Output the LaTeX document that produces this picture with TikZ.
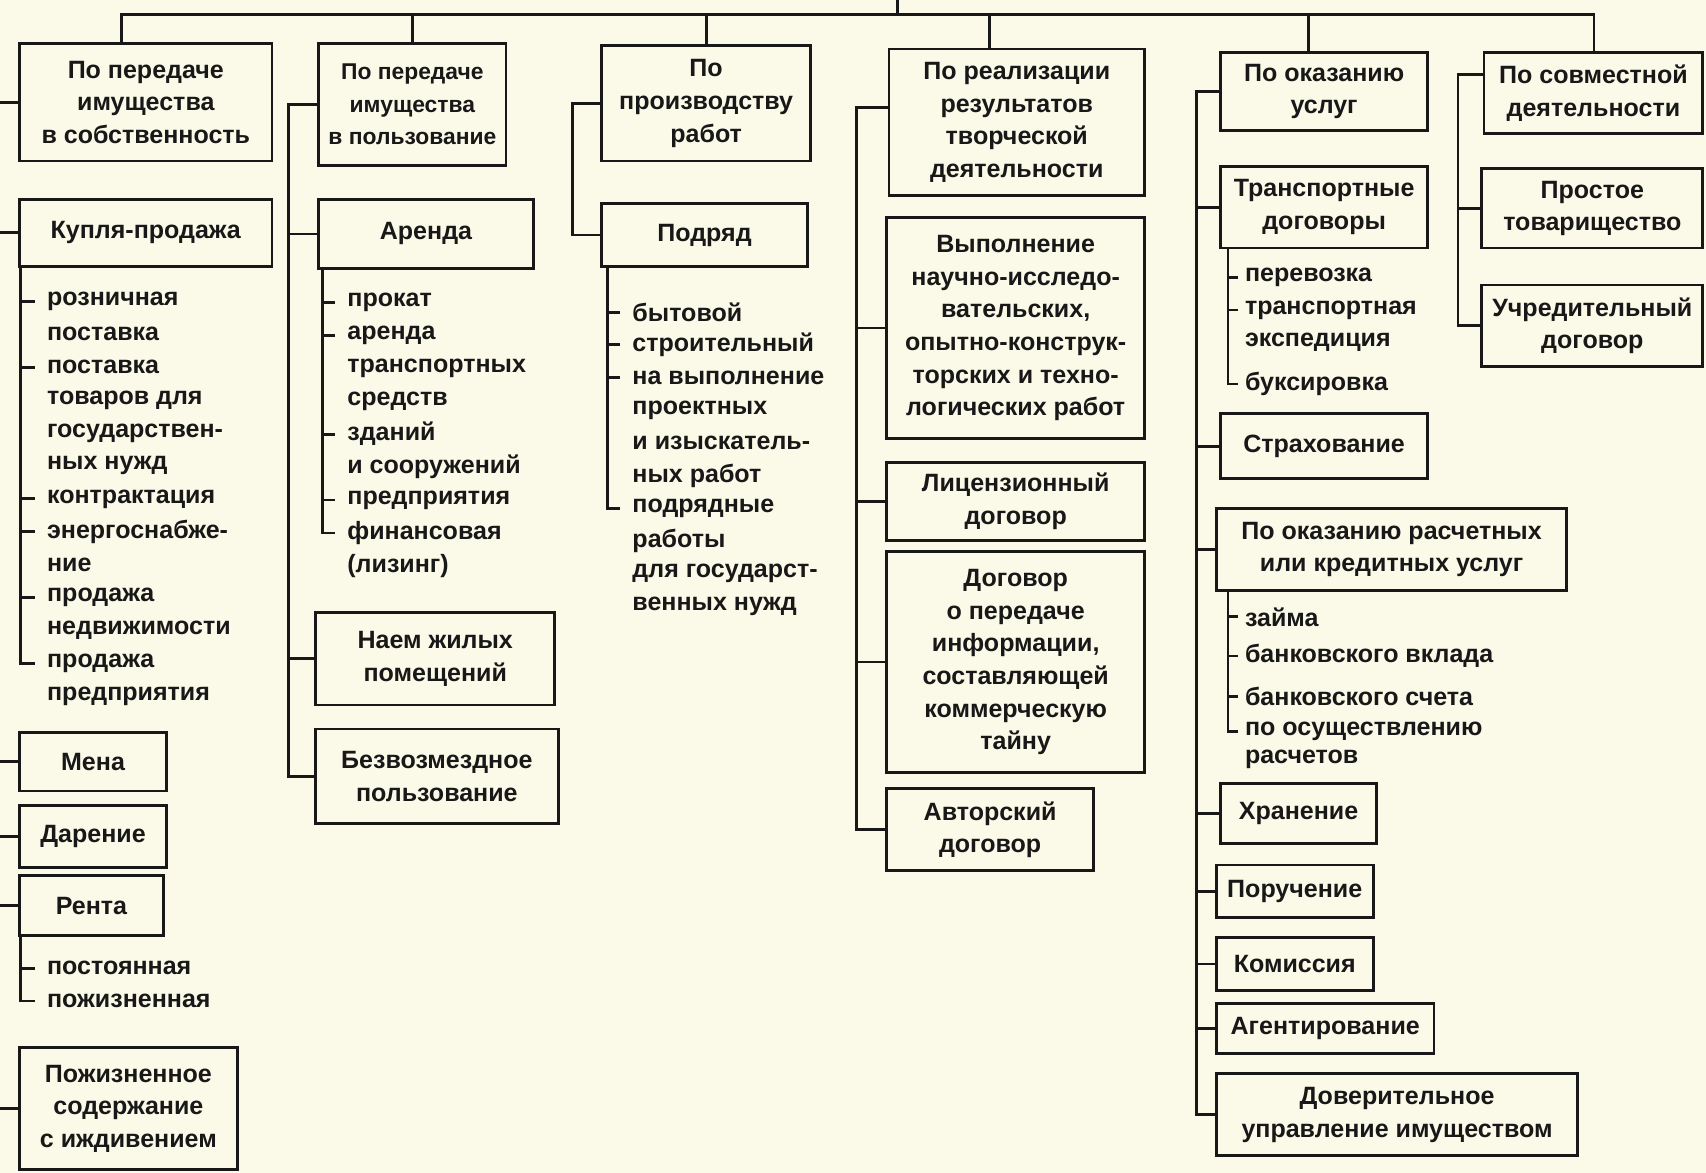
\documentclass[tikz,border=0pt]{standalone}
\usepackage{fontspec}
\setmainfont{Liberation Sans}
\usetikzlibrary{positioning,calc}
\definecolor{paper}{RGB}{251,249,231}
\definecolor{ink}{RGB}{24,24,24}
\tikzset{
    box/.style={draw=ink, line width=2.6pt, align=center, inner sep=0pt,
        text=ink, font=\fontsize{23}{30}\selectfont\bfseries},
    item/.style={anchor=west, inner sep=0pt, text=ink,
        font=\fontsize{23}{30}\selectfont\bfseries},
}

\begin{document}
\begin{tikzpicture}[x=1pt, y=-1pt, color=ink, line width=2.6pt]
        \useasboundingbox (0,0) rectangle (1568,1078);
        \fill[paper] (0,0) rectangle (1568,1078);

        % Top level groups
        \node[box, minimum width=232, minimum height=108] (P1) at (134,94) {По передаче\\имущества\\в собственность};
        \node[box, minimum width=172, minimum height=112, font=\fontsize{21}{30}\selectfont\bfseries] (P2) at (379,96) {По передаче\\имущества\\в пользование};
        \node[box, minimum width=192, minimum height=106] (P3) at (649,95) {По\\производству\\работ};
        \node[box, minimum width=235, minimum height=135] (P4) at (934.5,112.5) {По реализации\\результатов\\творческой\\деятельности};
        \node[box, minimum width=190, minimum height=72] (P5) at (1217,84) {По оказанию\\услуг};
        \node[box, minimum width=201, minimum height=75] (P6) at (1464.5,85.5) {По совместной\\деятельности};

        % Top bar and the drops into the groups
        \coordinate (T) at (825,0);
        \coordinate (L) at (112,13);
        \coordinate (R) at (1465,13);
        \draw (L |- P1.north) -- (L) -- (R) -- (R |- P6.north);
        \draw (T) -- (T |- L);
        \draw (P2.north) -- (P2.north |- L);
        \draw (P3.north) -- (P3.north |- L);
        \draw ([xshift=-25pt]P4.north) -- ([xshift=-25pt]P4.north |- L);
        \draw ([xshift=-14pt]P5.north) -- ([xshift=-14pt]P5.north |- L);

        % Column 1: transfer into ownership
        \coordinate (E) at (0,0);
        \node[box, minimum width=232, minimum height=62] (KP) at (134,214) {Купля-продажа};
        \node[box, minimum width=135, minimum height=54] (MEN) at (85.5,700) {Мена};
        \node[box, minimum width=135, minimum height=57] (DAR) at (85.5,768.5) {Дарение};
        \node[box, minimum width=132, minimum height=55] (RENT) at (84,832.5) {Рента};
        \node[box, minimum width=200, minimum height=112] (POZH) at (118,1019) {Пожизненное\\содержание\\с иждивением};
        \foreach \n in {P1,KP,MEN,DAR,RENT,POZH}
            \draw (\n.west) -- (\n.west -| E);

        \foreach \t [count=\i] in {розничная, поставка, поставка, товаров для,
            государствен-, ных нужд, контрактация, энергоснабже-, ние, продажа,
            недвижимости, продажа, предприятия}
            \node[item] (KP\i) at (42,246.75+30.25*\i) {\t};
        \draw ([xshift=2pt]KP.south west) |- ([xshift=-10pt]KP12.west);
        \foreach \i in {1,3,7,8,10}
            \draw ([xshift=-10pt]KP\i.west) -- ([xshift=-22pt]KP\i.west);

        \node[item] (R1) at (42,890) {постоянная};
        \node[item] (R2) at (42,920) {пожизненная};
        \draw ([xshift=2pt]RENT.south west) |- ([xshift=-10pt]R2.west);
        \draw ([xshift=-10pt]R1.west) -- ([xshift=-22pt]R1.west);

        % Column 2: transfer into use
        \coordinate (bus2) at (265,0);
        \node[box, minimum width=197, minimum height=64] (AR) at (391.5,215) {Аренда};
        \node[box, minimum width=220, minimum height=85] (NAEM) at (400,605.5) {Наем жилых\\помещений};
        \node[box, minimum width=223, minimum height=87] (BZ) at (401.5,713.5) {Безвозмездное\\пользование};
        \draw (P2.west) -| (bus2 |- BZ.west) -- (BZ.west);
        \foreach \n in {AR,NAEM}
            \draw (\n.west) -- (\n.west -| bus2);

        \foreach \t [count=\i] in {прокат, аренда, транспортных, средств, зданий,
            и сооружений, предприятия, финансовая, (лизинг)}
            \node[item] (AR\i) at (318,247.5+30.3*\i) {\t};
        \draw ([xshift=5pt]AR.south west) |- ([xshift=-10pt]AR8.west);
        \foreach \i in {1,2,5,7}
            \draw ([xshift=-10pt]AR\i.west) -- ([xshift=-20pt]AR\i.west);

        % Column 3: works
        \coordinate (bus3) at (526,0);
        \node[box, minimum width=189, minimum height=58] (POD) at (647.5,216) {Подряд};
        \draw (P3.west) -| (bus3 |- POD.west) -- (POD.west);

        \foreach \t [count=\i] in {бытовой, строительный, на выполнение, проектных,
            и изыскатель-, ных работ, подрядные, работы, для государст-, венных нужд}
            \node[item] (POD\i) at (580,257+30*\i) {\t};
        \draw ([xshift=7pt]POD.south west) |- ([xshift=-10pt]POD7.west);
        \foreach \i in {1,2,3}
            \draw ([xshift=-10pt]POD\i.west) -- ([xshift=-20pt]POD\i.west);

        % Column 4: results of creative activity
        \coordinate (bus4) at (787,0);
        \node[box, minimum width=237, minimum height=203] (NIR) at (933.5,301.5) {Выполнение\\научно-исследо-\\вательских,\\опытно-конструк-\\торских и техно-\\логических работ};
        \node[box, minimum width=237, minimum height=72] (LIC) at (933.5,461) {Лицензионный\\договор};
        \node[box, minimum width=237, minimum height=203] (INF) at (933.5,608.5) {Договор\\о передаче\\информации,\\составляющей\\коммерческую\\тайну};
        \node[box, minimum width=190, minimum height=75] (AVT) at (910,762.5) {Авторский\\договор};
        \draw ($(P4.north west)!0.4!(P4.south west)$) -| (bus4 |- AVT.west) -- (AVT.west);
        \foreach \n in {NIR,LIC,INF}
            \draw (\n.west) -- (\n.west -| bus4);

        % Column 5: services
        \coordinate (bus5) at (1100,0);
        \node[box, minimum width=190, minimum height=75] (TR) at (1217,190.5) {Транспортные\\договоры};
        \node[box, minimum width=190, minimum height=60] (STR) at (1217,410) {Страхование};
        \node[box, minimum width=322, minimum height=76] (RAS) at (1279,505) {По оказанию расчетных\\или кредитных услуг};
        \node[box, minimum width=143, minimum height=55] (XR) at (1193.5,747.5) {Хранение};
        \node[box, minimum width=144, minimum height=48] (POR) at (1190,819) {Поручение};
        \node[box, minimum width=144, minimum height=48] (KOM) at (1190,886) {Комиссия};
        \node[box, minimum width=200, minimum height=46] (AG) at (1218,945) {Агентирование};
        \node[box, minimum width=332, minimum height=75] (DOV) at (1284,1024.5) {Доверительное\\управление имуществом};
        \draw (P5.west) -| (bus5 |- DOV.west) -- (DOV.west);
        \foreach \n in {TR,STR,RAS,XR,POR,KOM,AG}
            \draw (\n.west) -- (\n.west -| bus5);

        \foreach \t/\y [count=\i] in {перевозка/255, транспортная/285,
            экспедиция/315, буксировка/353}
            \node[item] (TR\i) at (1143,\y) {\t};
        \draw ([xshift=8pt]TR.south west) |- ([xshift=-5pt]TR4.west);
        \foreach \i in {1,2}
            \draw ([xshift=-5pt]TR\i.west) -- ([xshift=-13pt]TR\i.west);

        \foreach \t/\y [count=\i] in {займа/567, банковского вклада/603,
            банковского счета/640, по осуществлению/672, расчетов/698}
            \node[item] (RAS\i) at (1143,\y) {\t};
        \draw ([xshift=12pt]RAS.south west) |- ([xshift=-5pt]RAS4.west);
        \foreach \i in {1,2,3}
            \draw ([xshift=-5pt]RAS\i.west) -- ([xshift=-13pt]RAS\i.west);

        % Column 6: joint activity
        \coordinate (bus6) at (1340,0);
        \node[box, minimum width=203, minimum height=73] (PT) at (1463.5,191.5) {Простое\\товарищество};
        \node[box, minimum width=203, minimum height=75] (UCH) at (1463.5,299.5) {Учредительный\\договор};
        \draw ($(P6.north west)!0.28!(P6.south west)$) -| (bus6 |- UCH.west) -- (UCH.west);
        \draw (PT.west) -- (PT.west -| bus6);

\end{tikzpicture}
\end{document}
